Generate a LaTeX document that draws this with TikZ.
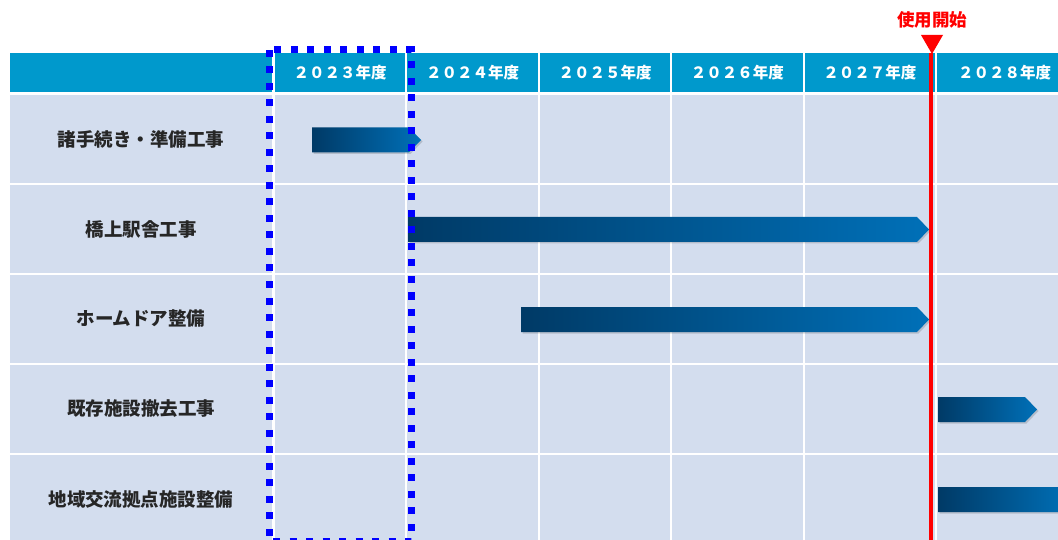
\documentclass[tikz,border=0pt]{standalone}
\usepackage{fontspec}
\newfontfamily\jpfont{Noto Sans CJK JP}
\usetikzlibrary{positioning}

\definecolor{headblue}{RGB}{0,153,204}
\definecolor{rowblue}{RGB}{211,221,238}
\definecolor{bardark}{RGB}{0,58,102}
\definecolor{barlight}{RGB}{0,112,184}
\definecolor{markred}{RGB}{255,0,0}
\definecolor{framblue}{RGB}{0,0,255}

\begin{document}
\begin{tikzpicture}[x=1pt, y=-1pt,
	every node/.style={inner sep=0pt},
	rowlabel/.style={font=\jpfont\bfseries\fontsize{18.5}{20}\selectfont, text=black!85},
	yearlabel/.style={font=\jpfont\bfseries\fontsize{15.5}{18}\selectfont, text=white},
	taskbar/.style={left color=bardark, right color=barlight}]
		\useasboundingbox (0,0) rectangle (1058,540);
		\clip (0,0) rectangle (1058,540);

		% Header band and grid cells
		\fill[headblue] (10,53) rectangle (272,92);
		\foreach \c in {0,...,5}
			\fill[headblue] ({275+132.4*\c},53) rectangle ({405.4+132.4*\c},92);
		\foreach \r in {0,...,4} {
			\fill[rowblue] (10,{95+90*\r}) rectangle (272,{183+90*\r});
			\foreach \c in {0,...,5}
				\fill[rowblue] ({275+132.4*\c},{95+90*\r}) rectangle ({405.4+132.4*\c},{183+90*\r});
		}

		% Year headings
		\node[yearlabel] (y2023) at (340.2,72.5) {２０２３年度};
		\node[yearlabel] (y2024) at (472.6,72.5) {２０２４年度};
		\node[yearlabel] (y2025) at (605.0,72.5) {２０２５年度};
		\node[yearlabel] (y2026) at (737.4,72.5) {２０２６年度};
		\node[yearlabel] (y2027) at (869.8,72.5) {２０２７年度};
		\node[yearlabel] (y2028) at (1004.5,72.5) {２０２８年度};

		% Task names
		\node[rowlabel] (t1) at (141,139) {諸手続き・準備工事};
		\node[rowlabel] (t2) at (141,229) {橋上駅舎工事};
		\node[rowlabel] (t3) at (141,319) {ホームドア整備};
		\node[rowlabel] (t4) at (141,409) {既存施設撤去工事};
		\node[rowlabel] (t5) at (141,499) {地域交流拠点施設整備};

		% Task bars
		\foreach \xa/\xb/\yc in {312/421/140, 408/929/229.5, 521/929/319.5, 938/1037/409.5, 938/1072/499.5} {
			\fill[black, opacity=0.15] (\xa+1.5,\yc-11) -- (\xb-10.5,\yc-11) -- (\xb+1.5,\yc+1.5) -- (\xb-10.5,\yc+14) -- (\xa+1.5,\yc+14) -- cycle;
			\shade[taskbar] (\xa,\yc-12.5) -- (\xb-12,\yc-12.5) -- (\xb,\yc) -- (\xb-12,\yc+12.5) -- (\xa,\yc+12.5) -- cycle;
		}

		% Current year frame
		\draw[framblue, line width=7pt, dash pattern=on 7pt off 9.5pt] (269,50) rectangle (411,541);

		% Start of use marker
		\coordinate (mtop) at (931,53);
		\coordinate (mbot) at (931,540);
		\draw[markred, line width=4pt] (mtop) -- (mbot);
		\fill[markred] (921,35) -- (943,35) -- (932,54) -- cycle;
		\node[font=\jpfont\bfseries\fontsize{17.5}{20}\selectfont, text=markred] (start) at (932,20) {使用開始};
	\end{tikzpicture}
\end{document}
